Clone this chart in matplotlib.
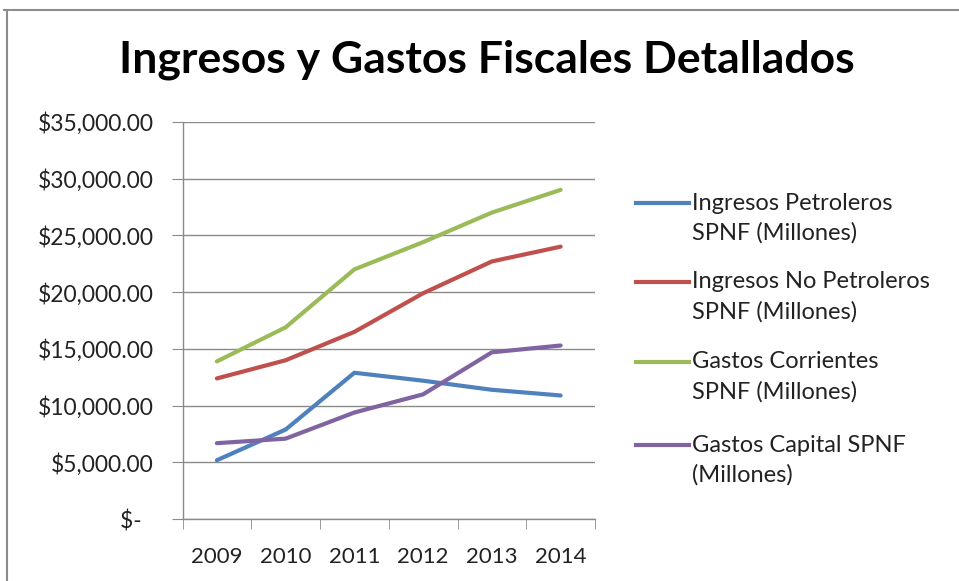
import numpy as np
import matplotlib.pyplot as plt
from matplotlib.lines import Line2D
from matplotlib.ticker import FuncFormatter, FixedLocator

plt.rcParams['font.family'] = ['Lato', 'DejaVu Sans']

# Datos anuales, millones de dolares
years = ['2009', '2010', '2011', '2012', '2013', '2014']
ingresos_petroleros = [5200, 7900, 12900, 12200, 11400, 10900]
ingresos_no_petroleros = [12400, 14000, 16500, 19900, 22700, 24000]
gastos_corrientes = [13900, 16900, 22000, 24400, 27000, 29000]
gastos_capital = [6700, 7100, 9400, 11000, 14700, 15300]

series_labels = ['Ingresos Petroleros\nSPNF (Millones)',
                 'Ingresos No Petroleros\nSPNF (Millones)',
                 'Gastos Corrientes\nSPNF (Millones)',
                 'Gastos Capital SPNF\n(Millones)']
colors = ['#4F81BD', '#C0504D', '#9BBB59', '#8064A2']

W, H = 959, 581
fig = plt.figure(figsize=(W / 100, H / 100), dpi=100)
ax = fig.add_axes([182.5 / W, 1 - 519.3 / H, (595 - 182.5) / W, (519.3 - 121.7) / H])

x = np.arange(len(years))
for vals, c in zip([ingresos_petroleros, ingresos_no_petroleros,
                    gastos_corrientes, gastos_capital], colors):
    ax.plot(x, vals, color=c, lw=3.0, solid_capstyle='round',
            solid_joinstyle='round', zorder=3)

ax.set_xlim(-0.5, len(years) - 0.5)
ax.set_ylim(0, 35000)
ax.set_yticks(np.arange(0, 35001, 5000))


def money(v, pos):
    if v == 0:
        return '$-  '
    return '${:,.2f}'.format(v)


ax.yaxis.set_major_formatter(FuncFormatter(money))
ax.set_xticks(x)
ax.set_xticklabels(years)
ax.xaxis.set_minor_locator(FixedLocator(np.arange(-0.5, len(years), 1.0)))

grid_c = '#8a8a8a'
ax.grid(axis='y', color=grid_c, lw=1.0)
ax.set_axisbelow(True)
for s in ['top', 'right']:
    ax.spines[s].set_visible(False)
for s in ['left', 'bottom']:
    ax.spines[s].set_color(grid_c)
    ax.spines[s].set_linewidth(1.0)

ax.tick_params(axis='y', length=8, color=grid_c, pad=13, labelsize=16.5,
               labelcolor='#222222')
ax.tick_params(axis='x', which='major', length=0, pad=20, labelsize=16,
               labelcolor='#222222')
ax.tick_params(axis='x', which='minor', length=7, color=grid_c)

fig.text(487 / W, 1 - 60 / H, 'Ingresos y Gastos Fiscales Detallados',
         ha='center', va='center', fontsize=32, fontweight='bold')

# leyenda a la derecha
legend_y = [203, 282, 362, 445]
for lab, c, yy in zip(series_labels, colors, legend_y):
    fig.add_artist(Line2D([636 / W, 689 / W], [1 - yy / H] * 2, color=c, lw=3.0,
                          transform=fig.transFigure))
    for i, line in enumerate(lab.split('\n')):
        fig.text(692 / W, 1 - (yy + 30 * i) / H, line, ha='left', va='center',
                 fontsize=17, color='#222222')

# marco del grafico
fig.add_artist(Line2D([4 / W, 1], [1 - 9.5 / H] * 2, color='#8c8c8c', lw=1.5,
                      transform=fig.transFigure))
fig.add_artist(Line2D([7 / W, 7 / W], [0, 1 - 9.5 / H], color='#8c8c8c', lw=1.5,
                      transform=fig.transFigure))

fig.savefig('out.png', dpi=100)
